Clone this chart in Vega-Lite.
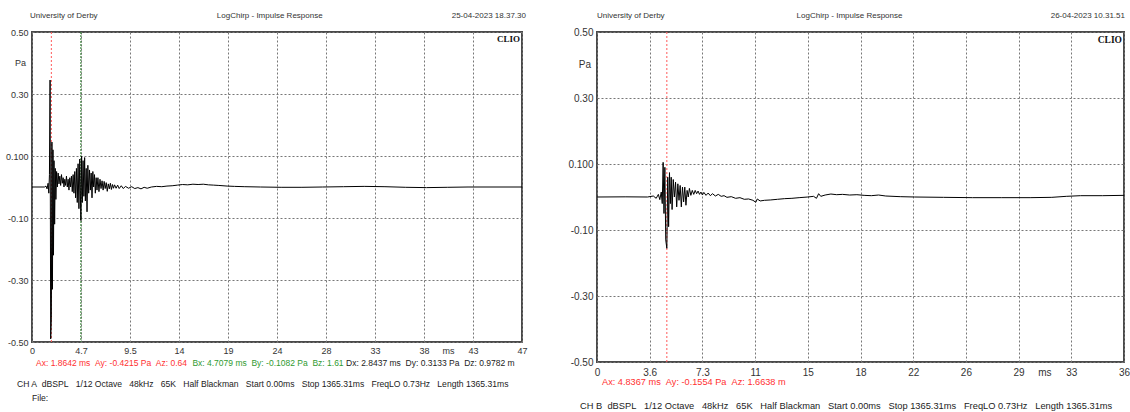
{
  "$schema": "https://vega.github.io/schema/vega-lite/v6.json",
  "background": "white",
  "padding": {"left": 4, "top": 11, "right": 0, "bottom": 0},
  "bounds": "flush",
  "spacing": 75,
  "datasets": {
    "left": [
      {"t":0,"p":0},{"t":1.2,"p":0},{"t":1.35,"p":0.003},{"t":1.45,"p":-0.006},{"t":1.55,"p":0.012},{"t":1.62,"p":-0.02},{"t":1.68,"p":0.04},{"t":1.74,"p":0.345},{"t":1.8,"p":-0.49},{"t":1.8642,"p":-0.4215},{"t":1.92,"p":0.145},{"t":1.97,"p":-0.33},{"t":2.02,"p":0.12},{"t":2.07,"p":-0.22},{"t":2.12,"p":0.085},{"t":2.18,"p":-0.12},{"t":2.24,"p":0.06},{"t":2.3,"p":-0.04},{"t":2.37,"p":0.05},{"t":2.44,"p":0.0},{"t":2.52,"p":0.045},{"t":2.6,"p":0.01},{"t":2.68,"p":0.035},{"t":2.76,"p":0.005},{"t":2.84,"p":0.04},{"t":2.92,"p":0.012},{"t":3.0,"p":0.03},{"t":3.08,"p":0.0},{"t":3.16,"p":0.025},{"t":3.24,"p":0.005},{"t":3.32,"p":0.035},{"t":3.4,"p":0.0},{"t":3.48,"p":0.025},{"t":3.56,"p":-0.01},{"t":3.64,"p":0.03},{"t":3.72,"p":0.0},{"t":3.8,"p":0.035},{"t":3.88,"p":-0.015},{"t":3.96,"p":0.04},{"t":4.04,"p":-0.02},{"t":4.12,"p":0.05},{"t":4.2,"p":-0.035},{"t":4.28,"p":0.06},{"t":4.36,"p":-0.05},{"t":4.44,"p":0.075},{"t":4.52,"p":-0.07},{"t":4.6,"p":0.09},{"t":4.7079,"p":-0.1082},{"t":4.78,"p":0.1},{"t":4.85,"p":-0.05},{"t":4.92,"p":0.085},{"t":5.0,"p":-0.03},{"t":5.07,"p":0.095},{"t":5.14,"p":-0.045},{"t":5.22,"p":0.06},{"t":5.3,"p":-0.08},{"t":5.38,"p":0.07},{"t":5.46,"p":-0.02},{"t":5.54,"p":0.055},{"t":5.62,"p":-0.01},{"t":5.7,"p":0.045},{"t":5.78,"p":-0.035},{"t":5.86,"p":0.05},{"t":5.94,"p":0.0},{"t":6.02,"p":0.04},{"t":6.1,"p":-0.02},{"t":6.18,"p":0.03},{"t":6.26,"p":-0.01},{"t":6.35,"p":0.03},{"t":6.45,"p":-0.015},{"t":6.55,"p":0.025},{"t":6.65,"p":-0.005},{"t":6.75,"p":0.02},{"t":6.85,"p":-0.01},{"t":6.95,"p":0.018},{"t":7.05,"p":-0.005},{"t":7.15,"p":0.014},{"t":7.25,"p":-0.014},{"t":7.35,"p":0.01},{"t":7.45,"p":-0.006},{"t":7.55,"p":0.012},{"t":7.65,"p":-0.008},{"t":7.75,"p":0.008},{"t":7.85,"p":-0.004},{"t":7.95,"p":0.007},{"t":8.1,"p":-0.004},{"t":8.25,"p":0.006},{"t":8.4,"p":-0.005},{"t":8.6,"p":0.004},{"t":8.8,"p":-0.005},{"t":9.0,"p":0.002},{"t":9.3,"p":-0.004},{"t":9.6,"p":0.001},{"t":9.9,"p":-0.005},{"t":10.2,"p":-0.002},{"t":10.5,"p":-0.006},{"t":10.8,"p":-0.001},{"t":11.1,"p":-0.004},{"t":11.5,"p":0.0},{"t":12.0,"p":0.002},{"t":12.5,"p":0.001},{"t":13.0,"p":0.003},{"t":13.5,"p":0.004},{"t":14.0,"p":0.006},{"t":14.5,"p":0.008},{"t":15.0,"p":0.007},{"t":15.5,"p":0.009},{"t":16.0,"p":0.008},{"t":16.5,"p":0.009},{"t":17.0,"p":0.007},{"t":17.5,"p":0.006},{"t":18.0,"p":0.005},{"t":18.8,"p":0.003},{"t":19.5,"p":0.002},{"t":20.5,"p":0.001},{"t":22,"p":0.0},{"t":24,"p":-0.001},{"t":26,"p":-0.001},{"t":28,"p":0.0},{"t":30,"p":0.001},{"t":32,"p":0.002},{"t":34,"p":0.001},{"t":36,"p":-0.001},{"t":38,"p":-0.002},{"t":40,"p":-0.001},{"t":42,"p":0.0},{"t":47.2,"p":0.0}
    ],
    "right": [
      {"t":0,"p":0},{"t":2.0,"p":0.0005},{"t":3.5,"p":0.0},{"t":3.9,"p":0.003},{"t":4.1,"p":-0.004},{"t":4.25,"p":0.008},{"t":4.35,"p":-0.008},{"t":4.45,"p":0.015},{"t":4.52,"p":-0.02},{"t":4.58,"p":0.105},{"t":4.64,"p":-0.05},{"t":4.7,"p":0.09},{"t":4.76,"p":-0.13},{"t":4.8367,"p":-0.1554},{"t":4.9,"p":0.06},{"t":4.96,"p":-0.09},{"t":5.02,"p":0.074},{"t":5.08,"p":-0.02},{"t":5.14,"p":0.06},{"t":5.2,"p":-0.038},{"t":5.28,"p":0.053},{"t":5.36,"p":0.0},{"t":5.44,"p":0.045},{"t":5.52,"p":-0.03},{"t":5.6,"p":0.04},{"t":5.68,"p":-0.01},{"t":5.76,"p":0.035},{"t":5.84,"p":-0.03},{"t":5.92,"p":0.03},{"t":6.0,"p":-0.015},{"t":6.08,"p":0.03},{"t":6.16,"p":-0.025},{"t":6.24,"p":0.02},{"t":6.32,"p":0.0},{"t":6.4,"p":0.026},{"t":6.5,"p":0.005},{"t":6.6,"p":0.02},{"t":6.7,"p":0.008},{"t":6.8,"p":0.02},{"t":6.9,"p":0.01},{"t":7.0,"p":0.018},{"t":7.1,"p":0.008},{"t":7.2,"p":0.015},{"t":7.3,"p":0.006},{"t":7.4,"p":0.014},{"t":7.55,"p":0.005},{"t":7.7,"p":0.012},{"t":7.85,"p":0.004},{"t":8.0,"p":0.01},{"t":8.2,"p":0.003},{"t":8.4,"p":0.008},{"t":8.6,"p":0.002},{"t":8.8,"p":0.004},{"t":9.0,"p":-0.001},{"t":9.3,"p":0.001},{"t":9.6,"p":-0.004},{"t":9.9,"p":-0.002},{"t":10.2,"p":-0.007},{"t":10.5,"p":-0.006},{"t":10.8,"p":-0.01},{"t":11.0,"p":-0.016},{"t":11.1,"p":-0.006},{"t":11.3,"p":-0.012},{"t":11.6,"p":-0.01},{"t":12.0,"p":-0.009},{"t":12.5,"p":-0.007},{"t":13.0,"p":-0.005},{"t":13.5,"p":-0.004},{"t":14.0,"p":-0.002},{"t":14.6,"p":0.0},{"t":15.0,"p":0.002},{"t":15.2,"p":-0.004},{"t":15.35,"p":0.01},{"t":15.5,"p":0.002},{"t":15.8,"p":0.006},{"t":16.2,"p":0.009},{"t":16.6,"p":0.007},{"t":17.0,"p":0.008},{"t":17.5,"p":0.006},{"t":18.0,"p":0.007},{"t":18.5,"p":0.005},{"t":19.0,"p":0.004},{"t":19.5,"p":0.006},{"t":20.0,"p":0.003},{"t":21.0,"p":0.001},{"t":22.0,"p":0.0},{"t":24.0,"p":-0.001},{"t":26.0,"p":-0.002},{"t":28.0,"p":-0.002},{"t":30.0,"p":-0.002},{"t":31.5,"p":-0.001},{"t":32.5,"p":0.002},{"t":33.5,"p":0.004},{"t":35.0,"p":0.004},{"t":36.5,"p":0.005}
    ],
    "cursorsA": [{"name": "A", "t": 1.8642}, {"name": "B", "t": 4.7079}],
    "cursorsB": [{"name": "A", "t": 4.8367}]
  },
  "config": {
    "view": {"stroke": "#4a4a4a", "strokeWidth": 2},
    "font": "Liberation Sans",
    "axis": {"domain": false, "ticks": false, "grid": true, "gridColor": "#777", "gridDash": [2, 2], "gridWidth": 1, "labelFont": "Liberation Sans", "labelFontSize": 9, "labelColor": "#333", "title": null},
    "text": {"font": "Liberation Sans", "fontSize": 8, "color": "#333"}
  },
  "hconcat": [
    {
      "width": 490,
      "height": 310,
      "layer": [
        {
          "data": {"name": "cursorsA"},
          "transform": [{"filter": "datum.name === 'A'"}],
          "mark": {"type": "rule", "color": "#ff5a5a", "strokeDash": [2, 2], "strokeWidth": 1},
          "encoding": {"x": {"field": "t", "type": "quantitative", "scale": {"domain": [0, 47.2], "nice": false, "zero": false}}}
        },
        {
          "data": {"name": "cursorsA"},
          "transform": [{"filter": "datum.name === 'B'"}],
          "mark": {"type": "rule", "color": "#2f7f2f", "strokeDash": [2, 1], "strokeWidth": 1},
          "encoding": {"x": {"field": "t", "type": "quantitative", "scale": {"domain": [0, 47.2], "nice": false, "zero": false}}}
        },
        {
          "data": {"name": "left"},
          "mark": {"type": "line", "color": "#000", "strokeWidth": 1, "clip": true},
          "encoding": {
            "x": {"field": "t", "type": "quantitative", "scale": {"domain": [0, 47.2], "nice": false, "zero": false},
              "axis": {"values": [0, 4.72, 9.44, 14.16, 18.88, 23.6, 28.32, 33.04, 37.76, 42.48, 47.2], "labelFlush": false, "labelPadding": 4, "labelOverlap": false,
                "labelExpr": "['0','4.7','9.5','14','19','24','28','33','38','43','47'][round(datum.value/4.72)]"}},
            "y": {"field": "p", "type": "quantitative", "scale": {"domain": [-0.5, 0.5], "nice": false, "zero": false},
              "axis": {"values": [0.5, 0.4, 0.3, 0.2, 0.1, 0, -0.1, -0.2, -0.3, -0.4, -0.5], "labelPadding": 4, "labelOverlap": false, "labelFlush": false,
                "labelExpr": "abs(datum.value-0.5)<0.01 ? '0.50' : abs(datum.value-0.3)<0.01 ? '0.30' : abs(datum.value-0.1)<0.01 ? '0.100' : abs(datum.value+0.1)<0.01 ? '-0.10' : abs(datum.value+0.3)<0.01 ? '-0.30' : abs(datum.value+0.5)<0.01 ? '-0.50' : ''"}}
          }
        },
        {
          "data": {"values": [{"label": "Pa"}]},
          "mark": {"type": "text", "align": "right", "baseline": "middle", "dx": -6, "fontSize": 9},
          "encoding": {"x": {"datum": 0, "type": "quantitative"}, "y": {"datum": 0.4, "type": "quantitative"}, "text": {"field": "label"}}
        },
        {
          "data": {"values": [{"label": "University of Derby"}]},
          "mark": {"type": "text", "align": "left", "baseline": "middle", "dx": -2, "dy": -16},
          "encoding": {"x": {"datum": 0, "type": "quantitative"}, "y": {"datum": 0.5, "type": "quantitative"}, "text": {"field": "label"}}
        },
        {
          "data": {"values": [{"label": "LogChirp - Impulse Response"}]},
          "mark": {"type": "text", "align": "center", "baseline": "middle", "dy": -16},
          "encoding": {"x": {"datum": 22.9, "type": "quantitative"}, "y": {"datum": 0.5, "type": "quantitative"}, "text": {"field": "label"}}
        },
        {
          "data": {"values": [{"label": "25-04-2023 18.37.30"}]},
          "mark": {"type": "text", "align": "right", "baseline": "middle", "dx": 4, "dy": -16},
          "encoding": {"x": {"datum": 47.2, "type": "quantitative"}, "y": {"datum": 0.5, "type": "quantitative"}, "text": {"field": "label"}}
        },
        {
          "data": {"values": [{"label": "CLIO"}]},
          "mark": {"type": "text", "align": "right", "baseline": "top", "dx": -2, "dy": 3, "font": "Liberation Serif", "fontWeight": "bold", "fontSize": 9, "color": "#111"},
          "encoding": {"x": {"datum": 47.2, "type": "quantitative"}, "y": {"datum": 0.5, "type": "quantitative"}, "text": {"field": "label"}}
        },
        {
          "data": {"values": [{"label": "ms"}]},
          "mark": {"type": "text", "align": "center", "baseline": "top", "dy": 5, "fontSize": 9},
          "encoding": {"x": {"datum": 40.12, "type": "quantitative"}, "y": {"datum": -0.5, "type": "quantitative"}, "text": {"field": "label"}}
        },
        {
          "data": {"values": [{"label": "Ax: 1.8642 ms\u00a0\u00a0Ay: -0.4215 Pa\u00a0\u00a0Az: 0.64"}]},
          "mark": {"type": "text", "align": "left", "baseline": "middle", "dx": 4, "dy": 21, "fontSize": 8.5, "color": "#ff3030"},
          "encoding": {"x": {"datum": 0, "type": "quantitative"}, "y": {"datum": -0.5, "type": "quantitative"}, "text": {"field": "label"}}
        },
        {
          "data": {"values": [{"label": "Bx: 4.7079 ms\u00a0\u00a0By: -0.1082 Pa\u00a0\u00a0Bz: 1.61"}]},
          "mark": {"type": "text", "align": "left", "baseline": "middle", "dy": 21, "fontSize": 8.5, "color": "#2f9a2f"},
          "encoding": {"x": {"datum": 15.45, "type": "quantitative"}, "y": {"datum": -0.5, "type": "quantitative"}, "text": {"field": "label"}}
        },
        {
          "data": {"values": [{"label": "Dx: 2.8437 ms\u00a0\u00a0Dy: 0.3133 Pa\u00a0\u00a0Dz: 0.9782 m"}]},
          "mark": {"type": "text", "align": "left", "baseline": "middle", "dy": 21, "fontSize": 8.5, "color": "#222"},
          "encoding": {"x": {"datum": 30.25, "type": "quantitative"}, "y": {"datum": -0.5, "type": "quantitative"}, "text": {"field": "label"}}
        },
        {
          "data": {"values": [{"label": "CH A\u00a0\u00a0dBSPL\u00a0\u00a0 1/12 Octave\u00a0\u00a0 48kHz\u00a0\u00a0 65K\u00a0\u00a0 Half Blackman\u00a0\u00a0 Start 0.00ms\u00a0\u00a0 Stop 1365.31ms\u00a0\u00a0 FreqLO 0.73Hz\u00a0\u00a0 Length 1365.31ms"}]},
          "mark": {"type": "text", "align": "left", "baseline": "middle", "dx": -15, "dy": 42, "fontSize": 8.6, "color": "#222"},
          "encoding": {"x": {"datum": 0, "type": "quantitative"}, "y": {"datum": -0.5, "type": "quantitative"}, "text": {"field": "label"}}
        },
        {
          "data": {"values": [{"label": "File:"}]},
          "mark": {"type": "text", "align": "left", "baseline": "middle", "dy": 56, "fontSize": 8.6, "color": "#222"},
          "encoding": {"x": {"datum": 0, "type": "quantitative"}, "y": {"datum": -0.5, "type": "quantitative"}, "text": {"field": "label"}}
        }
      ]
    },
    {
      "width": 527,
      "height": 330,
      "layer": [
        {
          "data": {"name": "cursorsB"},
          "mark": {"type": "rule", "color": "#ff5a5a", "strokeDash": [2, 2], "strokeWidth": 1},
          "encoding": {"x": {"field": "t", "type": "quantitative", "scale": {"domain": [0, 36.5], "nice": false, "zero": false}}}
        },
        {
          "data": {"name": "right"},
          "mark": {"type": "line", "color": "#000", "strokeWidth": 1, "clip": true},
          "encoding": {
            "x": {"field": "t", "type": "quantitative", "scale": {"domain": [0, 36.5], "nice": false, "zero": false},
              "axis": {"values": [0, 3.65, 7.3, 10.95, 14.6, 18.25, 21.9, 25.55, 29.2, 32.85, 36.5], "labelFlush": false, "labelPadding": 5, "labelOverlap": false, "labelFontSize": 10,
                "labelExpr": "['0','3.6','7.3','11','15','18','22','26','29','33','36'][round(datum.value/3.65)]"}},
            "y": {"field": "p", "type": "quantitative", "scale": {"domain": [-0.5, 0.5], "nice": false, "zero": false},
              "axis": {"values": [0.5, 0.4, 0.3, 0.2, 0.1, 0, -0.1, -0.2, -0.3, -0.4, -0.5], "labelPadding": 4, "labelOverlap": false, "labelFlush": false, "labelFontSize": 10,
                "labelExpr": "abs(datum.value-0.5)<0.01 ? '0.50' : abs(datum.value-0.3)<0.01 ? '0.30' : abs(datum.value-0.1)<0.01 ? '0.100' : abs(datum.value+0.1)<0.01 ? '-0.10' : abs(datum.value+0.3)<0.01 ? '-0.30' : abs(datum.value+0.5)<0.01 ? '-0.50' : ''"}}
          }
        },
        {
          "data": {"values": [{"label": "Pa"}]},
          "mark": {"type": "text", "align": "right", "baseline": "middle", "dx": -6, "fontSize": 10},
          "encoding": {"x": {"datum": 0, "type": "quantitative"}, "y": {"datum": 0.4, "type": "quantitative"}, "text": {"field": "label"}}
        },
        {
          "data": {"values": [{"label": "University of Derby"}]},
          "mark": {"type": "text", "align": "left", "baseline": "middle", "dy": -16},
          "encoding": {"x": {"datum": 0, "type": "quantitative"}, "y": {"datum": 0.5, "type": "quantitative"}, "text": {"field": "label"}}
        },
        {
          "data": {"values": [{"label": "LogChirp - Impulse Response"}]},
          "mark": {"type": "text", "align": "center", "baseline": "middle", "dy": -16},
          "encoding": {"x": {"datum": 17.49, "type": "quantitative"}, "y": {"datum": 0.5, "type": "quantitative"}, "text": {"field": "label"}}
        },
        {
          "data": {"values": [{"label": "26-04-2023 10.31.51"}]},
          "mark": {"type": "text", "align": "right", "baseline": "middle", "dx": 1, "dy": -16},
          "encoding": {"x": {"datum": 36.5, "type": "quantitative"}, "y": {"datum": 0.5, "type": "quantitative"}, "text": {"field": "label"}}
        },
        {
          "data": {"values": [{"label": "CLIO"}]},
          "mark": {"type": "text", "align": "right", "baseline": "top", "dx": -2, "dy": 3, "font": "Liberation Serif", "fontWeight": "bold", "fontSize": 9.5, "color": "#111"},
          "encoding": {"x": {"datum": 36.5, "type": "quantitative"}, "y": {"datum": 0.5, "type": "quantitative"}, "text": {"field": "label"}}
        },
        {
          "data": {"values": [{"label": "ms"}]},
          "mark": {"type": "text", "align": "center", "baseline": "top", "dy": 6, "fontSize": 10},
          "encoding": {"x": {"datum": 31.025, "type": "quantitative"}, "y": {"datum": -0.5, "type": "quantitative"}, "text": {"field": "label"}}
        },
        {
          "data": {"values": [{"label": "Ax: 4.8367 ms\u00a0\u00a0Ay: -0.1554 Pa\u00a0\u00a0Az: 1.6638 m"}]},
          "mark": {"type": "text", "align": "left", "baseline": "middle", "dx": 5, "dy": 20, "fontSize": 9.2, "color": "#ff3030"},
          "encoding": {"x": {"datum": 0, "type": "quantitative"}, "y": {"datum": -0.5, "type": "quantitative"}, "text": {"field": "label"}}
        },
        {
          "data": {"values": [{"label": "CH B\u00a0\u00a0dBSPL\u00a0\u00a0 1/12 Octave\u00a0\u00a0 48kHz\u00a0\u00a0 65K\u00a0\u00a0 Half Blackman\u00a0\u00a0 Start 0.00ms\u00a0\u00a0 Stop 1365.31ms\u00a0\u00a0 FreqLO 0.73Hz\u00a0\u00a0 Length 1365.31ms"}]},
          "mark": {"type": "text", "align": "left", "baseline": "middle", "dx": -17, "dy": 44, "fontSize": 9.3, "color": "#222"},
          "encoding": {"x": {"datum": 0, "type": "quantitative"}, "y": {"datum": -0.5, "type": "quantitative"}, "text": {"field": "label"}}
        }
      ]
    }
  ]
}
